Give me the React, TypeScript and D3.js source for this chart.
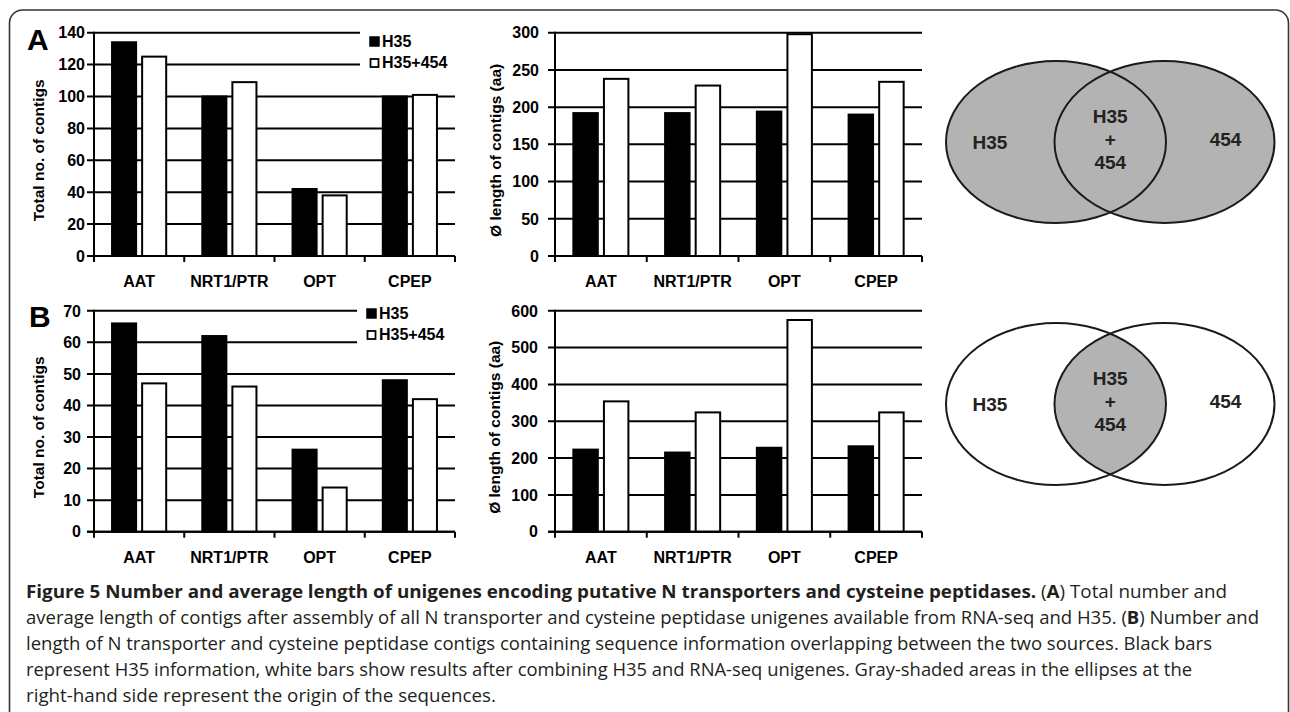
import React from 'react';
import * as d3 from 'd3';

// categories and series
const categories = ['AAT', 'NRT1/PTR', 'OPT', 'CPEP'];
const seriesNames = ['H35', 'H35+454'];

// panel A: all contigs
const contigsA_H35 = [134, 100, 42, 100];
const contigsA_H35454 = [125, 109, 38, 101];
const lengthA_H35 = [192, 192, 194, 190];
const lengthA_H35454 = [238, 229, 298, 234];

// panel B: overlapping contigs
const contigsB_H35 = [66, 62, 26, 48];
const contigsB_H35454 = [47, 46, 14, 42];
const lengthB_H35 = [223, 215, 228, 232];
const lengthB_H35454 = [354, 324, 575, 324];

// tick labels
const contigTicksA = [0, 20, 40, 60, 80, 100, 120, 140];
const lengthTicksA = [0, 50, 100, 150, 200, 250, 300];
const contigTicksB = [0, 10, 20, 30, 40, 50, 60, 70];
const lengthTicksB = [0, 100, 200, 300, 400, 500, 600];

const vennLeft = 'H35';
const vennRight = '454';
const vennCenter = ['H35', '+', '454'];

const captionBold = 'Figure 5 Number and average length of unigenes encoding putative N transporters and cysteine peptidases.';
const captionLines = [
  'average length of contigs after assembly of all N transporter and cysteine peptidase unigenes available from RNA-seq and H35. (',
  'length of N transporter and cysteine peptidase contigs containing sequence information overlapping between the two sources. Black bars',
  'represent H35 information, white bars show results after combining H35 and RNA-seq unigenes. Gray-shaded areas in the ellipses at the',
  'right-hand side represent the origin of the sequences.',
];

const FONT = '"Liberation Sans", Arial, sans-serif';
const CAPTION_FONT = '"Open Sans", "Noto Sans", sans-serif';

type PanelProps = {
  left: number;
  right: number;
  top: number;
  bottom: number;
  ticks: number[];
  h35: number[];
  combined: number[];
  yLabel: string;
  labelCx: number;
  tickRight: number;
  legend?: { x: number; y: number };
};

const BarPanel = ({ left, right, top, bottom, ticks, h35, combined, yLabel, labelCx, tickRight, legend }: PanelProps) => {
  const x = d3.scaleBand().domain(categories).range([left, right]);
  const xs = d3.scaleBand().domain(seriesNames).range([0, x.bandwidth()]).paddingInner(0.2).paddingOuter(0.6);
  const y = d3.scaleLinear().domain([0, ticks[ticks.length - 1]]).range([bottom, top]);
  const rows = categories.map((c, i) => ({ c, vals: [h35[i], combined[i]] }));
  const bounds = categories.map(c => x(c)!).concat([right]);

  return (
    <g>
      {/* grid lines, cut short where the legend sits */}
      {ticks.map(t => {
        const gy = y(t);
        const end = legend && gy < legend.y + 36 ? legend.x - 10 : right;
        return <line key={t} x1={left - 7} x2={end} y1={gy} y2={gy} stroke="#000" strokeWidth={2} />;
      })}
      {rows.map(r => r.vals.map((v, j) => (
        <rect
          key={r.c + j}
          x={x(r.c)! + xs(seriesNames[j])!}
          y={y(v)}
          width={xs.bandwidth()}
          height={bottom - y(v)}
          fill={j === 0 ? '#000' : '#fff'}
          stroke="#000"
          strokeWidth={2}
        />
      )))}
      <line x1={left} x2={left} y1={top - 1} y2={bottom} stroke="#000" strokeWidth={2} />
      <line x1={left - 7} x2={right} y1={bottom} y2={bottom} stroke="#000" strokeWidth={2} />
      {bounds.map((bx, i) => (
        <line key={i} x1={bx} x2={bx} y1={bottom} y2={bottom + 6} stroke="#000" strokeWidth={2} />
      ))}
      {ticks.map(t => (
        <text key={t} x={tickRight} y={y(t)} dy="0.36em" textAnchor="end" fontFamily={FONT} fontWeight="bold" fontSize={16}>
          {t}
        </text>
      ))}
      {categories.map(c => (
        <text key={c} x={x(c)! + x.bandwidth() / 2} y={bottom + 31} textAnchor="middle" fontFamily={FONT} fontWeight="bold" fontSize={16}>
          {c}
        </text>
      ))}
      <text
        transform={`translate(${labelCx},${(top + bottom) / 2 + 6}) rotate(-90)`}
        dy="0.36em"
        textAnchor="middle"
        fontFamily={FONT}
        fontWeight="bold"
        fontSize={15.5}
      >
        {yLabel}
      </text>
      {legend && (
        <g fontFamily={FONT} fontWeight="bold" fontSize={16}>
          <rect x={legend.x} y={legend.y} width={9} height={9} fill="#000" stroke="#000" strokeWidth={1.5} />
          <text x={legend.x + 12} y={legend.y + 10}>{seriesNames[0]}</text>
          <rect x={legend.x + 0.5} y={legend.y + 22} width={8} height={8} fill="#fff" stroke="#000" strokeWidth={1.8} />
          <text x={legend.x + 12} y={legend.y + 31}>{seriesNames[1]}</text>
        </g>
      )}
    </g>
  );
};

type VennProps = { cy: number; shade: 'all' | 'overlap'; id: string };

const Venn = ({ cy, shade, id }: VennProps) => {
  const cx1 = 1056;
  const cx2 = 1164.5;
  const rx = 110;
  const ry = 81;
  const gray = '#b3b3b3';
  const mid = (cx1 + cx2) / 2;
  return (
    <g>
      <defs>
        <clipPath id={id}>
          <ellipse cx={cx1} cy={cy} rx={rx} ry={ry} />
        </clipPath>
      </defs>
      {shade === 'all' ? (
        <>
          <ellipse cx={cx1} cy={cy} rx={rx} ry={ry} fill={gray} />
          <ellipse cx={cx2} cy={cy} rx={rx} ry={ry} fill={gray} />
        </>
      ) : (
        <>
          <ellipse cx={cx1} cy={cy} rx={rx} ry={ry} fill="#fff" />
          <ellipse cx={cx2} cy={cy} rx={rx} ry={ry} fill={gray} clipPath={`url(#${id})`} />
        </>
      )}
      <ellipse cx={cx1} cy={cy} rx={rx} ry={ry} fill="none" stroke="#1a1a1a" strokeWidth={2} />
      <ellipse cx={cx2} cy={cy} rx={rx} ry={ry} fill="none" stroke="#1a1a1a" strokeWidth={2} />
      <g fontFamily={FONT} fontWeight="bold" fontSize={19} fill="#222" textAnchor="middle">
        <text x={cx1 - 66} y={cy} dy="0.36em">{vennLeft}</text>
        <text x={cx2 + 61} y={cy - 3} dy="0.36em">{vennRight}</text>
        {vennCenter.map((s, i) => (
          <text key={i} x={mid} y={cy - 26 + i * 23} dy="0.36em">{s}</text>
        ))}
      </g>
    </g>
  );
};

const App = () => {
  const rowA = { top: 32.7, bottom: 256 };
  const rowB = { top: 310.8, bottom: 531.7 };
  const capY = 598;
  const capStep = 26;
  const lineLengths = [1233, 1186, 1166, 470];

  return (
    <svg
      width={1290}
      height={712}
      style={{ position: 'absolute', left: 0, top: 0, background: '#fff' }}
    >
      <rect x={9.5} y={10} width={1279} height={760} rx={13} fill="none" stroke="#333" strokeWidth={1.6} />

      <text x={27} y={50} fontFamily={FONT} fontWeight="bold" fontSize={30}>A</text>
      <text x={29} y={327} fontFamily={FONT} fontWeight="bold" fontSize={30}>B</text>

      <BarPanel
        left={94} right={455} {...rowA}
        ticks={contigTicksA} h35={contigsA_H35} combined={contigsA_H35454}
        yLabel="Total no. of contigs" labelCx={38} tickRight={85}
        legend={{ x: 370, y: 37 }}
      />
      <BarPanel
        left={555} right={922} {...rowA}
        ticks={lengthTicksA} h35={lengthA_H35} combined={lengthA_H35454}
        yLabel="Ø length of contigs (aa)" labelCx={495} tickRight={539}
      />
      <BarPanel
        left={94} right={455} {...rowB}
        ticks={contigTicksB} h35={contigsB_H35} combined={contigsB_H35454}
        yLabel="Total no. of contigs" labelCx={38} tickRight={81}
        legend={{ x: 367, y: 309 }}
      />
      <BarPanel
        left={555} right={922} {...rowB}
        ticks={lengthTicksB} h35={lengthB_H35} combined={lengthB_H35454}
        yLabel="Ø length of contigs (aa)" labelCx={494} tickRight={538}
      />

      <Venn cy={142} shade="all" id="vennA" />
      <Venn cy={404} shade="overlap" id="vennB" />

      <g fontFamily={CAPTION_FONT} fontSize={18.5} fill="#231f20">
        <text x={26} y={capY} textLength={1201} lengthAdjust="spacingAndGlyphs">
          <tspan fontWeight="bold">{captionBold}</tspan>
          <tspan> (</tspan>
          <tspan fontWeight="bold">A</tspan>
          <tspan>) Total number and</tspan>
        </text>
        {captionLines.map((line, i) => (
          <text key={i} x={26} y={capY + (i + 1) * capStep} textLength={lineLengths[i]} lengthAdjust="spacingAndGlyphs">
            {i === 0 ? (
              <>
                <tspan>{line}</tspan>
                <tspan fontWeight="bold">B</tspan>
                <tspan>) Number and</tspan>
              </>
            ) : line}
          </text>
        ))}
      </g>
    </svg>
  );
};

export default App;
